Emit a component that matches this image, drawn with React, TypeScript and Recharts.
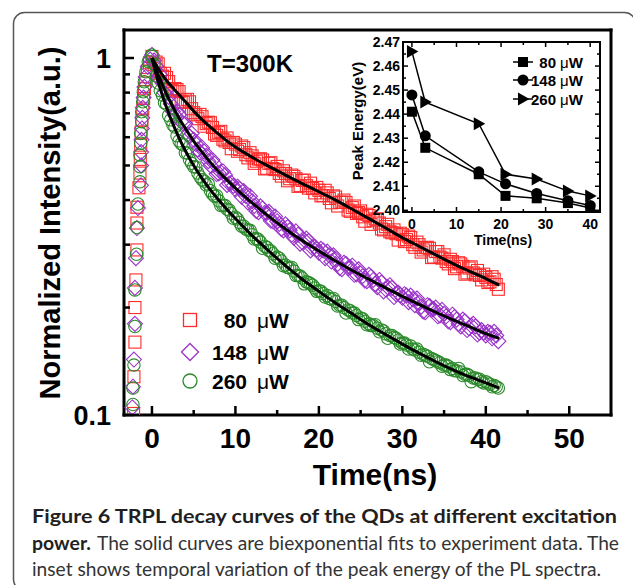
import React from 'react';
import { ScatterChart, Scatter, XAxis, YAxis, LineChart, Line } from 'recharts';

const SANS = '"Liberation Sans", Arial, Helvetica, sans-serif';
const CAPTION_FONT = 'Lato, "Open Sans", sans-serif';

const RED = '#ff2a2a';
const PURPLE = '#9a32c8';
const GREEN = '#2b8a2b';

// ---------------- main panel: ticks & labels ----------------
const xTicks = [0, 5, 10, 15, 20, 25, 30, 35, 40, 45, 50];
const yTicks = [0.1, 0.2, 0.3, 0.4, 0.5, 0.6, 0.7, 0.8, 0.9, 1];
const seriesNames = ['80', '148', '260'];
const tempLabel = 'T=300K';

// ---------------- main panel: rising edge ----------------
const redRiseT = [-2.2, -2.16, -2.04, -2.04, -1.92, -1.8, -1.8, -1.8, -1.56, -1.44, -1.4, -1.35, -1.3, -1.2, -1.1, -1.0, -0.9, -0.75, -0.55, -0.3];
const redRiseV = [0.101, 0.128, 0.16, 0.2, 0.239, 0.29, 0.345, 0.382, 0.433, 0.476, 0.52, 0.57, 0.62, 0.67, 0.72, 0.77, 0.82, 0.87, 0.92, 0.97];
const purpleRiseT = [-2.35, -2.28, -2.16, -2.04, -2.04, -1.92, -1.8, -1.68, -1.32, -1.3, -1.3, -1.25, -1.2, -1.15, -1.1, -1.0, -0.9, -0.75, -0.5, -0.2];
const purpleRiseV = [0.105, 0.12, 0.143, 0.18, 0.227, 0.275, 0.334, 0.38, 0.44, 0.5, 0.545, 0.59, 0.635, 0.68, 0.725, 0.775, 0.83, 0.885, 0.945, 0.99];
const greenRiseT = [-2.28, -2.28, -2.16, -2.04, -2.04, -1.85, -1.8, -1.68, -1.44, -1.44, -1.44, -1.35, -1.35, -1.23, -1.23, -1.11, -1.04, -0.92, -0.72, -0.44, -0.04];
const greenRiseV = [0.107, 0.119, 0.138, 0.177, 0.224, 0.282, 0.335, 0.39, 0.45, 0.496, 0.535, 0.577, 0.615, 0.663, 0.707, 0.754, 0.804, 0.858, 0.915, 0.976, 1.02];

// ---------------- main panel: decay (samples on the half-ns grid) ----------------
const decayT = [0, 0.5, 1, 1.5, 2, 2.5, 3, 3.5, 4, 4.5, 5, 5.5, 6, 6.5, 7, 7.5, 8, 8.5, 9, 9.5,
  10, 10.5, 11, 11.5, 12, 12.5, 13, 13.5, 14, 14.5, 15, 15.5, 16, 16.5, 17, 17.5, 18, 18.5, 19, 19.5,
  20, 20.5, 21, 21.5, 22, 22.5, 23, 23.5, 24, 24.5, 25, 25.5, 26, 26.5, 27, 27.5, 28, 28.5, 29, 29.5,
  30, 30.5, 31, 31.5, 32, 32.5, 33, 33.5, 34, 34.5, 35, 35.5, 36, 36.5, 37, 37.5, 38, 38.5, 39, 39.5,
  40, 40.5, 41, 41.5];
const redDecay = [1.01, 0.974, 0.906, 0.906, 0.859, 0.809, 0.816, 0.754, 0.763, 0.754,
  0.703, 0.676, 0.685, 0.655, 0.659, 0.613, 0.618, 0.592, 0.597, 0.557,
  0.574, 0.554, 0.561, 0.525, 0.532, 0.514, 0.522, 0.489, 0.507, 0.49,
  0.497, 0.467, 0.475, 0.459, 0.466, 0.437, 0.454, 0.439, 0.446, 0.419,
  0.426, 0.412, 0.419, 0.393, 0.408, 0.394, 0.40, 0.375, 0.381, 0.367,
  0.373, 0.349, 0.362, 0.35, 0.354, 0.332, 0.337, 0.326, 0.33, 0.309,
  0.32, 0.31, 0.314, 0.295, 0.30, 0.29, 0.295, 0.276, 0.287, 0.277,
  0.281, 0.265, 0.269, 0.26, 0.265, 0.248, 0.258, 0.25, 0.254, 0.239,
  0.243, 0.236, 0.24, 0.225];
const purpleDecay = [1.02, 0.949, 0.896, 0.799, 0.778, 0.708, 0.709, 0.663, 0.654, 0.603,
  0.591, 0.554, 0.561, 0.532, 0.50, 0.505, 0.475, 0.481, 0.441, 0.447,
  0.428, 0.43, 0.424, 0.394, 0.397, 0.373, 0.384, 0.368, 0.371, 0.349,
  0.349, 0.332, 0.342, 0.329, 0.314, 0.32, 0.305, 0.312, 0.289, 0.296,
  0.285, 0.289, 0.287, 0.269, 0.273, 0.258, 0.267, 0.258, 0.262, 0.248,
  0.249, 0.238, 0.247, 0.239, 0.228, 0.235, 0.225, 0.231, 0.214, 0.22,
  0.213, 0.216, 0.216, 0.203, 0.206, 0.195, 0.203, 0.197, 0.20, 0.19,
  0.192, 0.183, 0.191, 0.185, 0.177, 0.183, 0.175, 0.18, 0.168, 0.173,
  0.167, 0.17, 0.171, 0.161];
const greenDecay = [1.01, 0.89, 0.81, 0.75, 0.69, 0.65, 0.606, 0.575, 0.543, 0.519,
  0.496, 0.476, 0.456, 0.441, 0.425, 0.41, 0.398, 0.387, 0.377, 0.367,
  0.358, 0.346, 0.338, 0.33, 0.32, 0.312, 0.305, 0.297, 0.289, 0.283,
  0.277, 0.27, 0.263, 0.258, 0.253, 0.246, 0.242, 0.236, 0.233, 0.227,
  0.223, 0.219, 0.216, 0.211, 0.208, 0.203, 0.2, 0.197, 0.193, 0.19,
  0.187, 0.183, 0.18, 0.178, 0.175, 0.173, 0.169, 0.167, 0.165, 0.162,
  0.159, 0.157, 0.156, 0.152, 0.15, 0.148, 0.146, 0.144, 0.142, 0.14,
  0.138, 0.137, 0.135, 0.133, 0.132, 0.13, 0.129, 0.127, 0.126, 0.124,
  0.124, 0.122, 0.121, 0.119];

// ---------------- main panel: decay (samples between the grid points) ----------------
const decayTB = [0.25, 0.75, 1.25, 1.75, 2.25, 2.75, 3.25, 3.75, 4.25, 4.75, 5.25, 5.75, 6.25, 6.75, 7.25, 7.75, 8.25, 8.75, 9.25, 9.75,
  10.25, 10.75, 11.25, 11.75, 12.25, 12.75, 13.25, 13.75, 14.25, 14.75, 15.25, 15.75, 16.25, 16.75, 17.25, 17.75, 18.25, 18.75, 19.25, 19.75,
  20.25, 20.75, 21.25, 21.75, 22.25, 22.75, 23.25, 23.75, 24.25, 24.75, 25.25, 25.75, 26.25, 26.75, 27.25, 27.75, 28.25, 28.75, 29.25, 29.75,
  30.25, 30.75, 31.25, 31.75, 32.25, 32.75, 33.25, 33.75, 34.25, 34.75, 35.25, 35.75, 36.25, 36.75, 37.25, 37.75, 38.25, 38.75, 39.25, 39.75,
  40.25, 40.75, 41.25];
const redDecayB = [0.958, 0.963, 0.889, 0.882, 0.813, 0.821, 0.805, 0.751, 0.766, 0.721,
  0.693, 0.695, 0.644, 0.661, 0.639, 0.607, 0.623, 0.586, 0.58, 0.58,
  0.548, 0.567, 0.536, 0.543, 0.507, 0.521, 0.518, 0.491, 0.509, 0.487,
  0.475, 0.483, 0.453, 0.47, 0.459, 0.439, 0.455, 0.432, 0.431, 0.434,
  0.411, 0.426, 0.404, 0.411, 0.385, 0.395, 0.394, 0.372, 0.385, 0.369,
  0.359, 0.365, 0.342, 0.354, 0.345, 0.33, 0.342, 0.324, 0.322, 0.323,
  0.306, 0.317, 0.30, 0.305, 0.286, 0.294, 0.293, 0.277, 0.287, 0.275,
  0.269, 0.273, 0.257, 0.267, 0.261, 0.25, 0.26, 0.247, 0.246, 0.248,
  0.235, 0.244, 0.232];
const purpleDecayB = [0.984, 0.882, 0.851, 0.816, 0.743, 0.691, 0.693, 0.655, 0.61, 0.615,
  0.575, 0.544, 0.547, 0.514, 0.518, 0.473, 0.479, 0.47, 0.445, 0.438,
  0.436, 0.409, 0.411, 0.41, 0.385, 0.37, 0.379, 0.368, 0.35, 0.36,
  0.343, 0.329, 0.336, 0.32, 0.327, 0.302, 0.309, 0.307, 0.293, 0.291,
  0.292, 0.275, 0.28, 0.28, 0.265, 0.256, 0.265, 0.259, 0.247, 0.256,
  0.245, 0.237, 0.244, 0.233, 0.239, 0.222, 0.228, 0.227, 0.218, 0.217,
  0.218, 0.207, 0.211, 0.212, 0.201, 0.194, 0.202, 0.198, 0.189, 0.197,
  0.189, 0.182, 0.188, 0.18, 0.185, 0.173, 0.178, 0.177, 0.17, 0.17,
  0.171, 0.164, 0.167];
const greenDecayB = [0.96, 0.851, 0.788, 0.742, 0.671, 0.641, 0.586, 0.571, 0.542, 0.507,
  0.495, 0.465, 0.452, 0.444, 0.416, 0.411, 0.386, 0.386, 0.375, 0.356,
  0.354, 0.338, 0.332, 0.329, 0.311, 0.31, 0.293, 0.295, 0.288, 0.275,
  0.275, 0.262, 0.259, 0.259, 0.246, 0.245, 0.233, 0.235, 0.231, 0.222,
  0.222, 0.214, 0.212, 0.212, 0.202, 0.203, 0.193, 0.196, 0.193, 0.185,
  0.186, 0.179, 0.178, 0.179, 0.171, 0.172, 0.164, 0.167, 0.164, 0.158,
  0.159, 0.153, 0.153, 0.153, 0.147, 0.147, 0.141, 0.143, 0.141, 0.137,
  0.138, 0.134, 0.133, 0.135, 0.129, 0.13, 0.124, 0.127, 0.126, 0.123,
  0.123, 0.12, 0.12];

// ---------------- main panel: biexponential fits ----------------
const fitT = [0, 0.5, 1, 1.5, 2, 2.5, 3, 3.5, 4, 5, 6, 7, 8, 9, 10, 12, 14, 16, 18, 20, 22, 24, 26, 28, 30, 32, 34, 36, 38, 40, 41.6];
const redFit = [1.0, 0.955, 0.915, 0.88, 0.85, 0.825, 0.80, 0.777, 0.755, 0.71, 0.672, 0.64, 0.612, 0.585, 0.563, 0.527, 0.497, 0.47, 0.445, 0.422, 0.40, 0.377, 0.355, 0.334, 0.314, 0.297, 0.281, 0.266, 0.253, 0.241, 0.231];
const purpleFit = [1.0, 0.93, 0.87, 0.815, 0.77, 0.73, 0.695, 0.663, 0.635, 0.585, 0.545, 0.51, 0.48, 0.455, 0.432, 0.393, 0.36, 0.332, 0.308, 0.288, 0.27, 0.254, 0.24, 0.227, 0.215, 0.204, 0.194, 0.185, 0.177, 0.169, 0.164];
const greenFit = [1.0, 0.90, 0.82, 0.755, 0.70, 0.655, 0.615, 0.58, 0.55, 0.50, 0.46, 0.427, 0.40, 0.376, 0.355, 0.318, 0.288, 0.262, 0.24, 0.222, 0.206, 0.192, 0.179, 0.168, 0.158, 0.149, 0.141, 0.134, 0.128, 0.123, 0.119];

// ---------------- inset data ----------------
const insetT = [0, 3, 15, 21, 28, 35, 40];
const peak80 = [2.441, 2.426, 2.415, 2.406, 2.405, 2.403, 2.401];
const peak148 = [2.448, 2.431, 2.416, 2.411, 2.407, 2.404, 2.402];
const peak260 = [2.466, 2.445, 2.436, 2.415, 2.413, 2.408, 2.406];
const insetXTicks = [0, 5, 10, 15, 20, 25, 30, 35, 40];
const insetYTicks = [2.4, 2.405, 2.41, 2.415, 2.42, 2.425, 2.43, 2.435, 2.44, 2.445, 2.45, 2.455, 2.46, 2.465, 2.47];

const zip = (ts: number[], vs: number[]) => ts.map((t, i) => ({ t, v: vs[i] }));
const redPts = zip(redRiseT.concat(decayT, decayTB), redRiseV.concat(redDecay, redDecayB));
const purplePts = zip(purpleRiseT.concat(decayT, decayTB), purpleRiseV.concat(purpleDecay, purpleDecayB));
const greenPts = zip(greenRiseT.concat(decayT, decayTB), greenRiseV.concat(greenDecay, greenDecayB));
const redFitPts = zip(fitT, redFit);
const purpleFitPts = zip(fitT, purpleFit);
const greenFitPts = zip(fitT, greenFit);
const insetRows = insetT.map((t, i) => ({ t, e80: peak80[i], e148: peak148[i], e260: peak260[i] }));

// ---------------- marker shapes ----------------
const SquareMark = (p: any) =>
  p.cx == null ? <g /> : <rect x={p.cx - 6} y={p.cy - 6} width={12} height={12} fill="none" stroke={RED} strokeWidth={1.1} />;
const DiamondMark = (p: any) =>
  p.cx == null ? <g /> : (
    <polygon points={`${p.cx},${p.cy - 7.5} ${p.cx + 7.5},${p.cy} ${p.cx},${p.cy + 7.5} ${p.cx - 7.5},${p.cy}`} fill="none" stroke={PURPLE} strokeWidth={1.1} />
  );
const CircleMark = (p: any) =>
  p.cx == null ? <g /> : <circle cx={p.cx} cy={p.cy} r={6.2} fill="none" stroke={GREEN} strokeWidth={1.1} />;
const NoMark = () => <g />;

const SqDot = (p: any) => <rect key={p.key} x={p.cx - 5} y={p.cy - 5} width={10} height={10} fill="#000" />;
const CircDot = (p: any) => <circle key={p.key} cx={p.cx} cy={p.cy} r={5.5} fill="#000" />;
const TriDot = (p: any) => (
  <polygon key={p.key} points={`${p.cx + 6.5},${p.cy} ${p.cx - 5},${p.cy - 6.5} ${p.cx - 5},${p.cy + 6.5}`} fill="#000" />
);

// ---------------- tick renderers ----------------
const MAIN_TM = 12;
const MainXTick = (p: any) => {
  const { x, y, payload } = p;
  const v = payload.value;
  const axisY = y - MAIN_TM;
  const major = v % 10 === 0;
  return (
    <g>
      <line x1={x} x2={x} y1={axisY} y2={axisY - (major ? 9 : 5)} stroke="#000" strokeWidth={2.5} />
      {major && (
        <text x={x} y={axisY + 33} textAnchor="middle" fontFamily={SANS} fontWeight="bold" fontSize={28} fill="#000">
          {v}
        </text>
      )}
    </g>
  );
};
const MainYTick = (p: any) => {
  const { x, y, payload } = p;
  const v = payload.value;
  const axisX = x + MAIN_TM;
  const major = v === 1 || v === 0.1;
  return (
    <g>
      <line x1={axisX} x2={axisX + (major ? 10 : 6)} y1={y} y2={y} stroke="#000" strokeWidth={2.5} />
      {major && (
        <text x={axisX - 13} y={y + 9.5} textAnchor="end" fontFamily={SANS} fontWeight="bold" fontSize={27} fill="#000">
          {String(v)}
        </text>
      )}
    </g>
  );
};

const IN_TM = 4;
const isMajorX = (v: number) => v % 10 === 0;
const isMajorY = (v: number) => Math.round(v * 1000) % 10 === 0;
const InsetXTick = (p: any) => {
  const { x, y, payload } = p;
  const v = payload.value;
  const axisY = y - IN_TM;
  const major = isMajorX(v);
  return (
    <g>
      <line x1={x} x2={x} y1={axisY} y2={axisY - (major ? 5 : 3)} stroke="#000" strokeWidth={1.5} />
      {major && (
        <text x={x} y={axisY + 17} textAnchor="middle" fontFamily={SANS} fontWeight="bold" fontSize={14} fill="#000">
          {v}
        </text>
      )}
    </g>
  );
};
const InsetXTopTick = (p: any) => {
  const { x, y, payload } = p;
  const axisY = y + IN_TM;
  const major = isMajorX(payload.value);
  return <line x1={x} x2={x} y1={axisY} y2={axisY + (major ? 5 : 3)} stroke="#000" strokeWidth={1.5} />;
};
const InsetYTick = (p: any) => {
  const { x, y, payload } = p;
  const v = payload.value;
  const axisX = x + IN_TM;
  const major = isMajorY(v);
  return (
    <g>
      <line x1={axisX} x2={axisX + (major ? 5 : 3)} y1={y} y2={y} stroke="#000" strokeWidth={1.5} />
      {major && (
        <text x={axisX - 3} y={y + 5} textAnchor="end" fontFamily={SANS} fontWeight="bold" fontSize={14} fill="#000">
          {v.toFixed(2)}
        </text>
      )}
    </g>
  );
};
const InsetYRightTick = (p: any) => {
  const { x, y, payload } = p;
  const axisX = x - IN_TM;
  const major = isMajorY(payload.value);
  return <line x1={axisX} x2={axisX - (major ? 5 : 3)} y1={y} y2={y} stroke="#000" strokeWidth={1.5} />;
};

const frame = { stroke: '#000', strokeWidth: 3, strokeLinecap: 'square' as const };
const insetFrame = { stroke: '#000', strokeWidth: 2, strokeLinecap: 'square' as const };

const MAIN_X_DOMAIN: [number, number] = [-3.35, 55];
const MAIN_Y_DOMAIN: [number, number] = [0.1, 1.198];
const IN_X_DOMAIN: [number, number] = [-2, 42.2];
const IN_Y_DOMAIN: [number, number] = [2.3993, 2.47];

const legendShapes = [
  (cx: number, cy: number) => <rect x={cx - 6.5} y={cy - 6.5} width={13} height={13} fill="none" stroke={RED} strokeWidth={1.3} />,
  (cx: number, cy: number) => (
    <polygon points={`${cx},${cy - 8.5} ${cx + 8.5},${cy} ${cx},${cy + 8.5} ${cx - 8.5},${cy}`} fill="none" stroke={PURPLE} strokeWidth={1.3} />
  ),
  (cx: number, cy: number) => <circle cx={cx} cy={cy} r={7} fill="none" stroke={GREEN} strokeWidth={1.3} />,
];
const insetLegendShapes = [
  (cx: number, cy: number) => <rect x={cx - 5} y={cy - 5} width={10} height={10} fill="#000" />,
  (cx: number, cy: number) => <circle cx={cx} cy={cy} r={5.5} fill="#000" />,
  (cx: number, cy: number) => <polygon points={`${cx + 6.5},${cy} ${cx - 5},${cy - 6.5} ${cx - 5},${cy + 6.5}`} fill="#000" />,
];

export default function App() {
  const abs: React.CSSProperties = { position: 'absolute', left: 0, top: 0 };
  return (
    <div style={{ position: 'absolute', left: 0, top: 0, width: 633, height: 585, background: '#fff', overflow: 'hidden' }}>
      {/* background: frame and caption */}
      <svg width={633} height={585} style={abs}>
        <rect x={13.5} y={12.5} width={622} height={578} rx={11} fill="none" stroke="#555" strokeWidth={1.5} />
        <text x={32} y={523} fontFamily={CAPTION_FONT} fontSize={19.5} fontWeight="bold" fill="#231f20" textLength={585} lengthAdjust="spacingAndGlyphs">
          Figure 6 TRPL decay curves of the QDs at different excitation
        </text>
        <text x={32} y={550} fontFamily={CAPTION_FONT} fontSize={19.5} fontWeight="bold" fill="#231f20" textLength={59} lengthAdjust="spacingAndGlyphs">
          power.
        </text>
        <text x={97} y={550} fontFamily={CAPTION_FONT} fontSize={19.5} fill="#333" textLength={522} lengthAdjust="spacingAndGlyphs">
          The solid curves are biexponential fits to experiment data. The
        </text>
        <text x={32} y={576} fontFamily={CAPTION_FONT} fontSize={19.5} fill="#333" textLength={569} lengthAdjust="spacingAndGlyphs">
          inset shows temporal variation of the peak energy of the PL spectra.
        </text>
      </svg>

      {/* main chart */}
      <div style={abs}>
        <ScatterChart width={633} height={585} margin={{ top: 29, right: 21, bottom: 169, left: 123 }}>
          <XAxis xAxisId="b" type="number" dataKey="t" domain={MAIN_X_DOMAIN} allowDataOverflow ticks={xTicks} interval={0}
            height={1} tickSize={0} tickMargin={MAIN_TM} tickLine={false} axisLine={frame} tick={MainXTick} />
          <XAxis xAxisId="t" orientation="top" type="number" dataKey="t" domain={MAIN_X_DOMAIN} allowDataOverflow
            height={1} tick={false} tickLine={false} axisLine={frame} />
          <YAxis yAxisId="l" type="number" dataKey="v" scale="log" domain={MAIN_Y_DOMAIN} allowDataOverflow ticks={yTicks} interval={0}
            width={1} tickSize={0} tickMargin={MAIN_TM} tickLine={false} axisLine={frame} tick={MainYTick} />
          <YAxis yAxisId="r" orientation="right" type="number" dataKey="v" scale="log" domain={MAIN_Y_DOMAIN} allowDataOverflow
            width={1} tick={false} tickLine={false} axisLine={frame} />
          <Scatter xAxisId="b" yAxisId="l" data={redPts} shape={SquareMark} isAnimationActive={false} />
          <Scatter xAxisId="b" yAxisId="l" data={purplePts} shape={DiamondMark} isAnimationActive={false} />
          <Scatter xAxisId="b" yAxisId="l" data={greenPts} shape={CircleMark} isAnimationActive={false} />
          <Scatter xAxisId="b" yAxisId="l" data={redFitPts} shape={NoMark} line={{ stroke: '#000', strokeWidth: 3 }} lineJointType="monotoneX" isAnimationActive={false} />
          <Scatter xAxisId="b" yAxisId="l" data={purpleFitPts} shape={NoMark} line={{ stroke: '#000', strokeWidth: 3 }} lineJointType="monotoneX" isAnimationActive={false} />
          <Scatter xAxisId="b" yAxisId="l" data={greenFitPts} shape={NoMark} line={{ stroke: '#000', strokeWidth: 3 }} lineJointType="monotoneX" isAnimationActive={false} />
        </ScatterChart>
      </div>

      {/* inset chart */}
      <div style={{ position: 'absolute', left: 340, top: 10 }}>
        <LineChart width={290} height={250} data={insetRows} margin={{ top: 31, right: 29, bottom: 47, left: 62 }}>
          <XAxis xAxisId="b" type="number" dataKey="t" domain={IN_X_DOMAIN} allowDataOverflow ticks={insetXTicks} interval={0}
            height={1} tickSize={0} tickMargin={IN_TM} tickLine={false} axisLine={insetFrame} tick={InsetXTick} />
          <XAxis xAxisId="t" orientation="top" type="number" dataKey="t" domain={IN_X_DOMAIN} allowDataOverflow ticks={insetXTicks} interval={0}
            height={1} tickSize={0} tickMargin={IN_TM} tickLine={false} axisLine={insetFrame} tick={InsetXTopTick} />
          <YAxis yAxisId="l" type="number" domain={IN_Y_DOMAIN} allowDataOverflow ticks={insetYTicks} interval={0}
            width={1} tickSize={0} tickMargin={IN_TM} tickLine={false} axisLine={insetFrame} tick={InsetYTick} />
          <YAxis yAxisId="r" orientation="right" type="number" domain={IN_Y_DOMAIN} allowDataOverflow ticks={insetYTicks} interval={0}
            width={1} tickSize={0} tickMargin={IN_TM} tickLine={false} axisLine={insetFrame} tick={InsetYRightTick} />
          <Line xAxisId="b" yAxisId="l" dataKey="e80" stroke="#000" strokeWidth={1.5} dot={SqDot} isAnimationActive={false} />
          <Line xAxisId="b" yAxisId="l" dataKey="e148" stroke="#000" strokeWidth={1.5} dot={CircDot} isAnimationActive={false} />
          <Line xAxisId="b" yAxisId="l" dataKey="e260" stroke="#000" strokeWidth={1.5} dot={TriDot} isAnimationActive={false} />
        </LineChart>
      </div>

      {/* overlay texts and legends */}
      <svg width={633} height={585} style={{ ...abs, pointerEvents: 'none' }}>
        <text transform="translate(60,223) rotate(-90)" textAnchor="middle" fontFamily={SANS} fontWeight="bold" fontSize={29} fill="#000">
          Normalized Intensity(a.u.)
        </text>
        <text x={375} y={485} textAnchor="middle" fontFamily={SANS} fontWeight="bold" fontSize={30} fill="#000">
          Time(ns)
        </text>
        <text x={250} y={72} textAnchor="middle" fontFamily={SANS} fontWeight="bold" fontSize={24} fill="#000">
          {tempLabel}
        </text>
        {seriesNames.map((n, i) => {
          const cy = [320, 352, 381][i];
          return (
            <g key={n}>
              {legendShapes[i](190, cy)}
              <text x={247} y={cy + 8} textAnchor="end" fontFamily={SANS} fontWeight="bold" fontSize={21} fill="#000">{n}</text>
              <text x={257} y={cy + 8} fontFamily={SANS} fontSize={21} fill="#000">
                <tspan>μ</tspan><tspan fontWeight="bold">W</tspan>
              </text>
            </g>
          );
        })}
        <text transform="translate(363,121) rotate(-90)" textAnchor="middle" fontFamily={SANS} fontWeight="bold" fontSize={15} fill="#000">
          Peak Energy(eV)
        </text>
        <text x={503} y={245} textAnchor="middle" fontFamily={SANS} fontWeight="bold" fontSize={14} fill="#000">
          Time(ns)
        </text>
        {seriesNames.map((n, i) => {
          const cy = [62, 80, 99][i];
          return (
            <g key={'in' + n}>
              <line x1={513} x2={533} y1={cy} y2={cy} stroke="#000" strokeWidth={1.5} />
              {insetLegendShapes[i](523, cy)}
              <text x={556} y={cy + 5.5} textAnchor="end" fontFamily={SANS} fontWeight="bold" fontSize={15} fill="#000">{n}</text>
              <text x={560} y={cy + 5.5} fontFamily={SANS} fontSize={15} fill="#000">
                <tspan>μ</tspan><tspan fontWeight="bold">W</tspan>
              </text>
            </g>
          );
        })}
      </svg>
    </div>
  );
}
